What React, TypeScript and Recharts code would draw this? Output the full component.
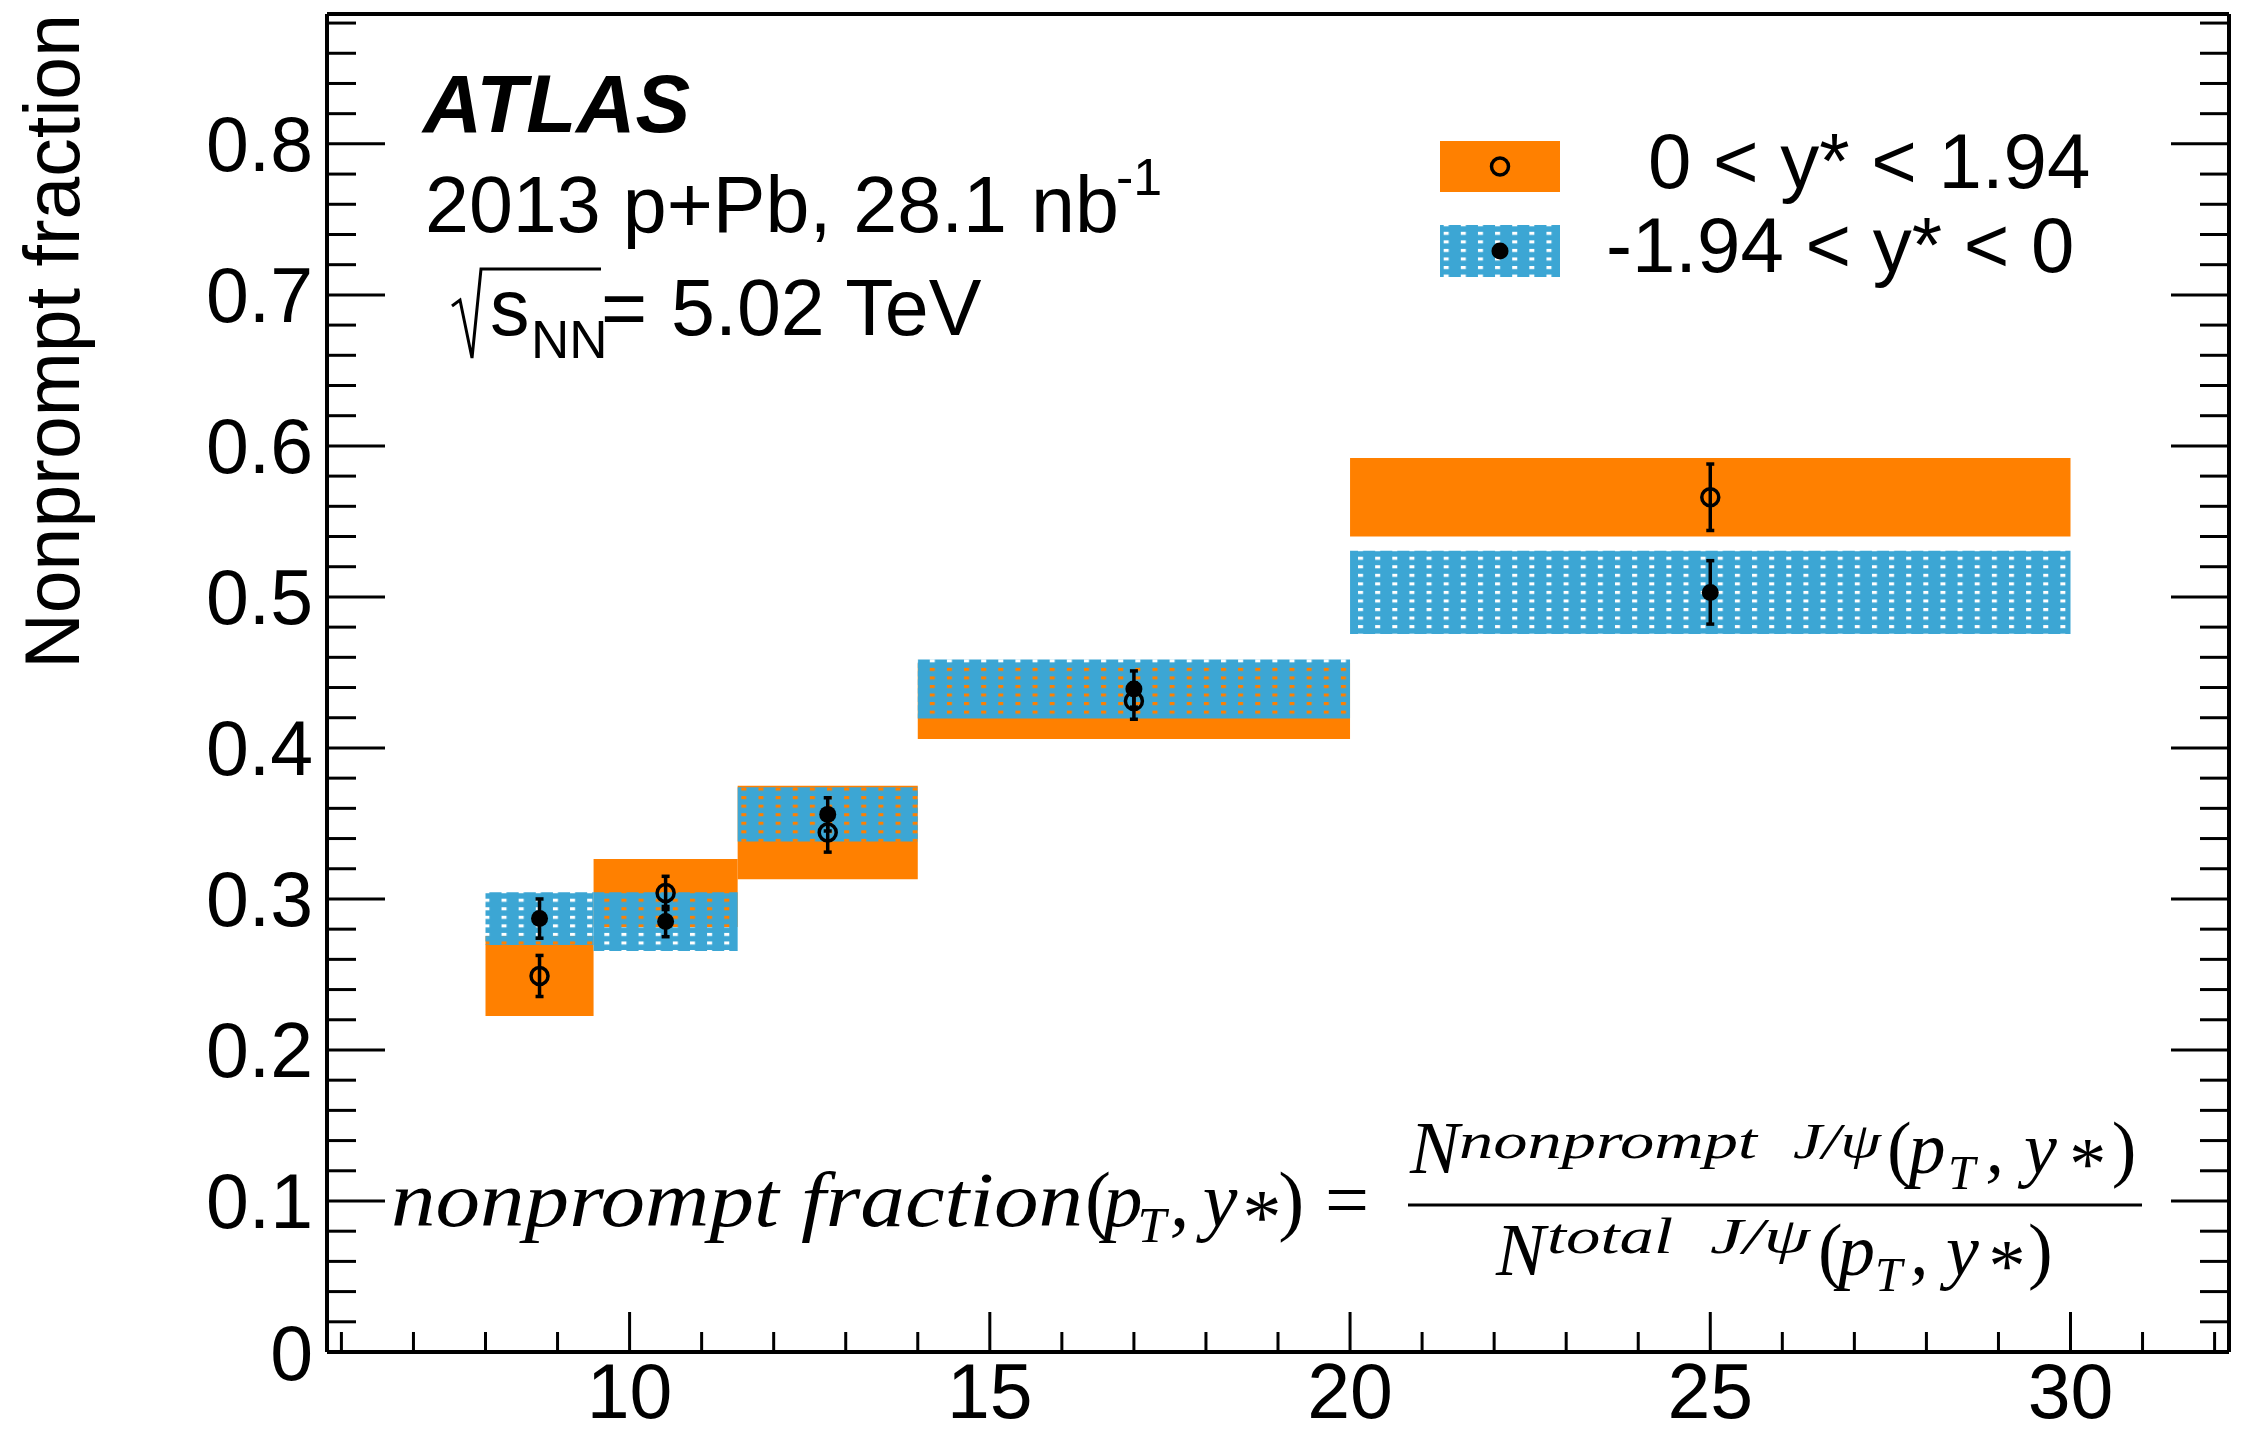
import React from "react";
import { ComposedChart, XAxis, YAxis, Scatter, ErrorBar, ReferenceArea } from "recharts";

// pT bins (GeV) and mean pT of each bin
const binLow = [8, 9.5, 11.5, 14, 20];
const binHigh = [9.5, 11.5, 14, 20, 30];
const meanPt = [8.75, 10.5, 12.75, 17.0, 25.0];

// 0 < y* < 1.94 (orange, open circles)
const fwdFrac = [0.249, 0.304, 0.344, 0.431, 0.566];
const fwdStat = [0.0136, 0.011, 0.013, 0.012, 0.022];
const fwdSyst = [0.0265, 0.0225, 0.031, 0.025, 0.026];

// -1.94 < y* < 0 (blue hatched, full circles)
const bwdFrac = [0.287, 0.285, 0.356, 0.439, 0.503];
const bwdStat = [0.013, 0.01, 0.011, 0.012, 0.021];
const bwdSyst = [0.0175, 0.0195, 0.018, 0.0195, 0.0275];

const xMajorTicks = [10, 15, 20, 25, 30];
const xAllTicks = [6, 7, 8, 9, 10, 11, 12, 13, 14, 15, 16, 17, 18, 19, 20, 21, 22, 23, 24, 25, 26, 27, 28, 29, 30, 31, 32];
const yMajorTicks = [0, 0.1, 0.2, 0.3, 0.4, 0.5, 0.6, 0.7, 0.8];
const yLabels = ["0", "0.1", "0.2", "0.3", "0.4", "0.5", "0.6", "0.7", "0.8"];
const yAllTicks = Array.from({ length: 45 }, (_, i) => +(i * 0.02).toFixed(2));

const ORANGE = "#FF8000";
const BLUE = "#3CA6D4";
const SANS = "'Liberation Sans', Arial, Helvetica, sans-serif";
const SERIF = "'Liberation Serif', 'Times New Roman', serif";

const W = 2243;
const H = 1435;

const fwdPoints = meanPt.map((x, i) => ({ x, y: fwdFrac[i], err: fwdStat[i] }));
const bwdPoints = meanPt.map((x, i) => ({ x, y: bwdFrac[i], err: bwdStat[i] }));

const isYMajor = (v: number) => yMajorTicks.some((t) => Math.abs(t - v) < 1e-6);

function BottomTick(props: any) {
  const { x, y, payload } = props;
  const major = xMajorTicks.includes(payload.value);
  return (
    <g>
      <line x1={x} x2={x} y1={y} y2={y - (major ? 40 : 20)} stroke="#000" strokeWidth={3} />
      {major && (
        <text x={x} y={y + 66} textAnchor="middle" fontSize={77} fontFamily={SANS} fill="#000">
          {payload.value}
        </text>
      )}
    </g>
  );
}

function TopTick(props: any) {
  const { x, y, payload } = props;
  const major = xMajorTicks.includes(payload.value);
  return <line x1={x} x2={x} y1={y} y2={y + (major ? 40 : 20)} stroke="#000" strokeWidth={3} />;
}

function LeftTick(props: any) {
  const { x, y, payload } = props;
  const major = isYMajor(payload.value);
  const idx = yMajorTicks.findIndex((t) => Math.abs(t - payload.value) < 1e-6);
  return (
    <g>
      <line x1={x} x2={x + (major ? 58 : 29)} y1={y} y2={y} stroke="#000" strokeWidth={3} />
      {major && (
        <text x={x - 14} y={y + 27.5} textAnchor="end" fontSize={77} fontFamily={SANS} fill="#000">
          {yLabels[idx]}
        </text>
      )}
    </g>
  );
}

function RightTick(props: any) {
  const { x, y, payload } = props;
  const major = isYMajor(payload.value);
  return <line x1={x} x2={x - (major ? 58 : 29)} y1={y} y2={y} stroke="#000" strokeWidth={3} />;
}

const OpenCircle = (props: any) => (
  <circle cx={props.cx} cy={props.cy} r={8.5} fill="none" stroke="#000" strokeWidth={3.5} />
);
const FullCircle = (props: any) => <circle cx={props.cx} cy={props.cy} r={8.5} fill="#000" />;

// "(p_T, y*)" laid out piece by piece, k stretches the spacing
function PtArgs(props: { x: number; y: number; size: number; k: number }) {
  const { x, y, size, k } = props;
  const sub = size * 0.66;
  return (
    <g fontSize={size}>
      <text x={x} y={y} fontStyle="normal">(</text>
      <text x={x + 20 * k} y={y}>p</text>
      <text x={x + 57 * k} y={y + size * 0.21} fontSize={sub}>T</text>
      <text x={x + 92 * k} y={y}>,</text>
      <text x={x + 128 * k} y={y}>y</text>
      <text x={x + 167 * k} y={y + size * 0.22}>*</text>
      <text x={x + 210 * k} y={y} fontStyle="normal">)</text>
    </g>
  );
}

function Overlay() {
  return (
    <svg
      width={W}
      height={H}
      style={{ position: "absolute", left: 0, top: 0, pointerEvents: "none" }}
    >
      <defs>
        <pattern id="blueHatch" patternUnits="userSpaceOnUse" x={0} y={0} width={17.13} height={8.55}>
          <path
            d="M0 0 H17.13 V8.55 H0 Z M4.78 1.05 V4.05 H9.78 V1.05 Z"
            fill={BLUE}
            fillRule="evenodd"
          />
        </pattern>
      </defs>

      {/* y axis title */}
      <text
        x={79}
        y={14}
        transform="rotate(-90 79 14)"
        textAnchor="end"
        fontSize={77}
        fontFamily={SANS}
        fill="#000"
      >
        Nonprompt fraction
      </text>

      {/* ATLAS label block */}
      <text x={423} y={132} fontSize={82} fontFamily={SANS} fontWeight="bold" fontStyle="italic" fill="#000">
        ATLAS
      </text>
      <text x={425} y={232} fontSize={79} fontFamily={SANS} fill="#000">
        2013 p+Pb, 28.1
      </text>
      <text x={1031} y={232} fontSize={79} fontFamily={SANS} fill="#000">
        nb
      </text>
      <text x={1116} y={195} fontSize={52} fontFamily={SANS} fill="#000">
        -1
      </text>
      <polyline
        points="452,306 460,300 472,358 481,269 601,269"
        fill="none"
        stroke="#000"
        strokeWidth={3}
      />
      <text x={490} y={335} fontSize={79} fontFamily={SANS} fill="#000">
        s
      </text>
      <text x={531} y={358} fontSize={53} fontFamily={SANS} fill="#000">
        NN
      </text>
      <text x={601} y={335} fontSize={79} fontFamily={SANS} fill="#000">
        =
      </text>
      <text x={671} y={335} fontSize={79} fontFamily={SANS} fill="#000">
        5.02 TeV
      </text>

      {/* legend */}
      <rect x={1440} y={141} width={120} height={51} fill={ORANGE} />
      <circle cx={1500} cy={166.5} r={8.5} fill="none" stroke="#000" strokeWidth={3.5} />
      <text x={1648} y={188} fontSize={78} fontFamily={SANS} fill="#000">
        0 &lt; y* &lt; 1.94
      </text>
      <rect x={1440} y={225} width={120} height={52} fill="url(#blueHatch)" />
      <circle cx={1500} cy={251} r={8.5} fill="#000" />
      <text x={1606} y={272} fontSize={78} fontFamily={SANS} fill="#000">
        -1.94 &lt; y* &lt; 0
      </text>

      {/* formula */}
      <g fontFamily={SERIF} fontStyle="italic" fill="#000">
        <text x={391} y={1226} fontSize={78} textLength={692} lengthAdjust="spacingAndGlyphs">
          nonprompt  fraction
        </text>
        <PtArgs x={1085} y={1226} size={78} k={0.92} />
        <text x={1325} y={1226} fontSize={78} fontStyle="normal">=</text>
        <line x1={1408} x2={2142} y1={1205} y2={1205} stroke="#000" strokeWidth={3} />

        <text x={1410} y={1173} fontSize={74}>N</text>
        <text x={1459} y={1158} fontSize={50} textLength={298} lengthAdjust="spacingAndGlyphs">
          nonprompt
        </text>
        <text x={1793} y={1158} fontSize={50} textLength={88} lengthAdjust="spacingAndGlyphs">
          J/ψ
        </text>
        <PtArgs x={1887} y={1173} size={74} k={1.07} />

        <text x={1496} y={1275} fontSize={74}>N</text>
        <text x={1547} y={1253} fontSize={50} textLength={126} lengthAdjust="spacingAndGlyphs">
          total
        </text>
        <text x={1710} y={1253} fontSize={50} textLength={100} lengthAdjust="spacingAndGlyphs">
          J/ψ
        </text>
        <PtArgs x={1818} y={1275} size={74} k={1.0} />
      </g>
    </svg>
  );
}

export default function App() {
  return (
    <div style={{ position: "absolute", left: 0, top: 0, width: W, height: H, background: "#fff" }}>
      <div style={{ position: "absolute", left: 0, top: 0 }}>
        <ComposedChart width={W} height={H} margin={{ top: 0, right: 0, bottom: 0, left: 0 }}>
          <XAxis
            xAxisId="bottom"
            type="number"
            dataKey="x"
            orientation="bottom"
            domain={[5.8, 32.2]}
            allowDataOverflow
            ticks={xAllTicks}
            interval={0}
            height={83}
            tickSize={0}
            tickMargin={0}
            tick={<BottomTick />}
            axisLine={{ stroke: "#000", strokeWidth: 4 }}
          />
          <XAxis
            xAxisId="top"
            type="number"
            orientation="top"
            domain={[5.8, 32.2]}
            allowDataOverflow
            ticks={xAllTicks}
            interval={0}
            height={14}
            tickSize={0}
            tickMargin={0}
            tick={<TopTick />}
            axisLine={{ stroke: "#000", strokeWidth: 4 }}
          />
          <YAxis
            yAxisId="left"
            type="number"
            dataKey="y"
            orientation="left"
            domain={[0, 0.886]}
            allowDataOverflow
            ticks={yAllTicks}
            interval={0}
            width={327}
            tickSize={0}
            tickMargin={0}
            tick={<LeftTick />}
            axisLine={{ stroke: "#000", strokeWidth: 4 }}
          />
          <YAxis
            yAxisId="right"
            type="number"
            orientation="right"
            domain={[0, 0.886]}
            allowDataOverflow
            ticks={yAllTicks}
            interval={0}
            width={14}
            tickSize={0}
            tickMargin={0}
            tick={<RightTick />}
            axisLine={{ stroke: "#000", strokeWidth: 4 }}
          />

          {binLow.map((lo, i) => (
            <ReferenceArea
              key={`fwd-${i}`}
              xAxisId="bottom"
              yAxisId="left"
              x1={lo}
              x2={binHigh[i]}
              y1={fwdFrac[i] - fwdSyst[i]}
              y2={fwdFrac[i] + fwdSyst[i]}
              fill={ORANGE}
              fillOpacity={1}
              stroke="none"
              ifOverflow="visible"
            />
          ))}
          {binLow.map((lo, i) => (
            <ReferenceArea
              key={`bwd-${i}`}
              xAxisId="bottom"
              yAxisId="left"
              x1={lo}
              x2={binHigh[i]}
              y1={bwdFrac[i] - bwdSyst[i]}
              y2={bwdFrac[i] + bwdSyst[i]}
              fill="url(#blueHatch)"
              fillOpacity={1}
              stroke="none"
              ifOverflow="visible"
            />
          ))}

          <Scatter
            name="0 < y* < 1.94"
            data={fwdPoints}
            xAxisId="bottom"
            yAxisId="left"
            dataKey="y"
            shape={<OpenCircle />}
            isAnimationActive={false}
          >
            <ErrorBar dataKey="err" direction="y" width={4} stroke="#000" strokeWidth={3.5} isAnimationActive={false} />
          </Scatter>
          <Scatter
            name="-1.94 < y* < 0"
            data={bwdPoints}
            xAxisId="bottom"
            yAxisId="left"
            dataKey="y"
            shape={<FullCircle />}
            isAnimationActive={false}
          >
            <ErrorBar dataKey="err" direction="y" width={4} stroke="#000" strokeWidth={3.5} isAnimationActive={false} />
          </Scatter>
        </ComposedChart>
      </div>
      <Overlay />
    </div>
  );
}
